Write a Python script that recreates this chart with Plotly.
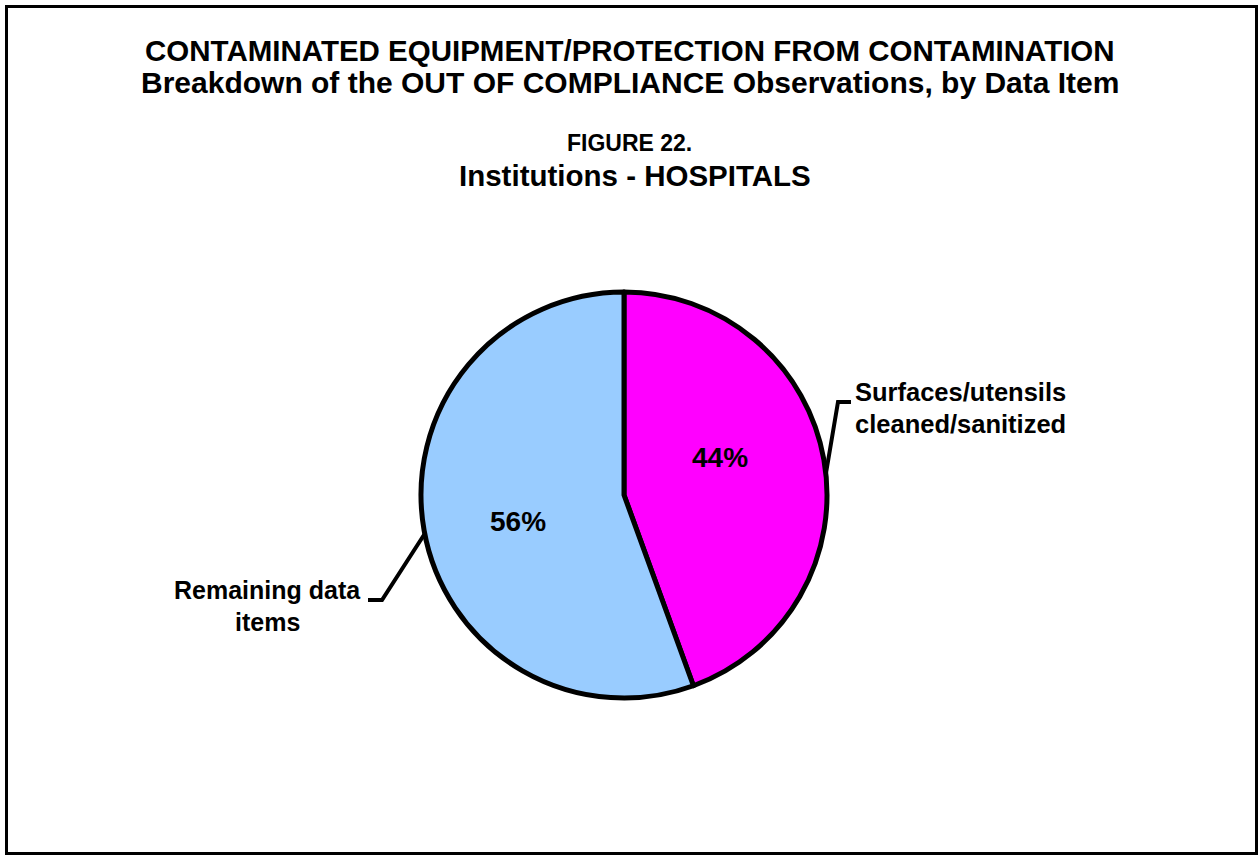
import math
import plotly.graph_objects as go

W, H = 1259, 856

labels = ["Surfaces/utensils cleaned/sanitized", "Remaining data items"]
counts = [4, 5]
colors = ["#FF00FF", "#99CCFF"]

title_lines = ["CONTAMINATED EQUIPMENT/PROTECTION FROM CONTAMINATION",
               "Breakdown of the OUT OF COMPLIANCE Observations, by Data Item"]
sub_lines = ["FIGURE 22.", "Institutions - HOSPITALS"]
label_lines = [["Surfaces/utensils", "cleaned/sanitized"], ["Remaining data", "items"]]

FONT = "Liberation Sans, Arial, sans-serif"

cx, cy, R = 624, 495, 203


def px(x, y):
    return x / W, 1 - y / H


total = sum(counts)
pct = [f"{round(100 * c / total)}%" for c in counts]

fig = go.Figure()
fig.add_trace(go.Pie(
    labels=labels, values=counts, sort=False, direction="clockwise", rotation=0,
    marker=dict(colors=colors, line=dict(color="black", width=5)),
    textinfo="none",
    domain=dict(x=[(cx - R) / W, (cx + R) / W], y=[1 - (cy + R) / H, 1 - (cy - R) / H]),
    showlegend=False, hoverinfo="label+percent",
))

shapes = [dict(type="rect", xref="paper", yref="paper", x0=px(6.5, 0)[0], x1=px(1256.5, 0)[0],
               y0=px(0, 853.5)[1], y1=px(0, 6.5)[1], line=dict(color="black", width=3))]


def path(points):
    s = ""
    for i, (x, y) in enumerate(points):
        xx, yy = px(x, y)
        s += ("M" if i == 0 else " L") + f" {xx:.5f} {yy:.5f}"
    return s


def edge(deg):
    a = math.radians(deg)
    return cx + R * math.sin(a), cy - R * math.cos(a)

e1 = edge(84)
e2 = edge(259)
shapes.append(dict(type="path", xref="paper", yref="paper",
                   path=path([e1, (838, 402), (851, 402)]), line=dict(color="black", width=4)))
shapes.append(dict(type="path", xref="paper", yref="paper",
                   path=path([e2, (382, 600), (368, 600)]), line=dict(color="black", width=4)))

annotations = []


def txt(text, x, y, size, xanchor="center"):
    xx, yy = px(x, y)
    annotations.append(dict(text=f"<b>{text}</b>", x=xx, y=yy, xref="paper", yref="paper",
                            showarrow=False, xanchor=xanchor, yanchor="middle",
                            font=dict(family=FONT, size=size, color="black")))

txt(title_lines[0], 630, 50, 29.5)
txt(title_lines[1], 630, 82, 30)
txt(sub_lines[0], 629, 143, 23)
txt(sub_lines[1], 635, 175, 29.5)
txt(label_lines[0][0], 960, 392, 25.5)
txt(label_lines[0][1], 960, 424, 25.5)
txt(label_lines[1][0], 267, 590, 25)
txt(label_lines[1][1], 267, 622, 25)
txt(pct[0], 720, 457, 28)
txt(pct[1], 518, 521, 28)

fig.update_layout(width=W, height=H, margin=dict(l=0, r=0, t=0, b=0),
                  paper_bgcolor="white", plot_bgcolor="white",
                  shapes=shapes, annotations=annotations)

fig.write_html("out.html", config={"displayModeBar": False},
               post_script="document.body.style.margin='0';document.body.style.overflow='hidden';")
